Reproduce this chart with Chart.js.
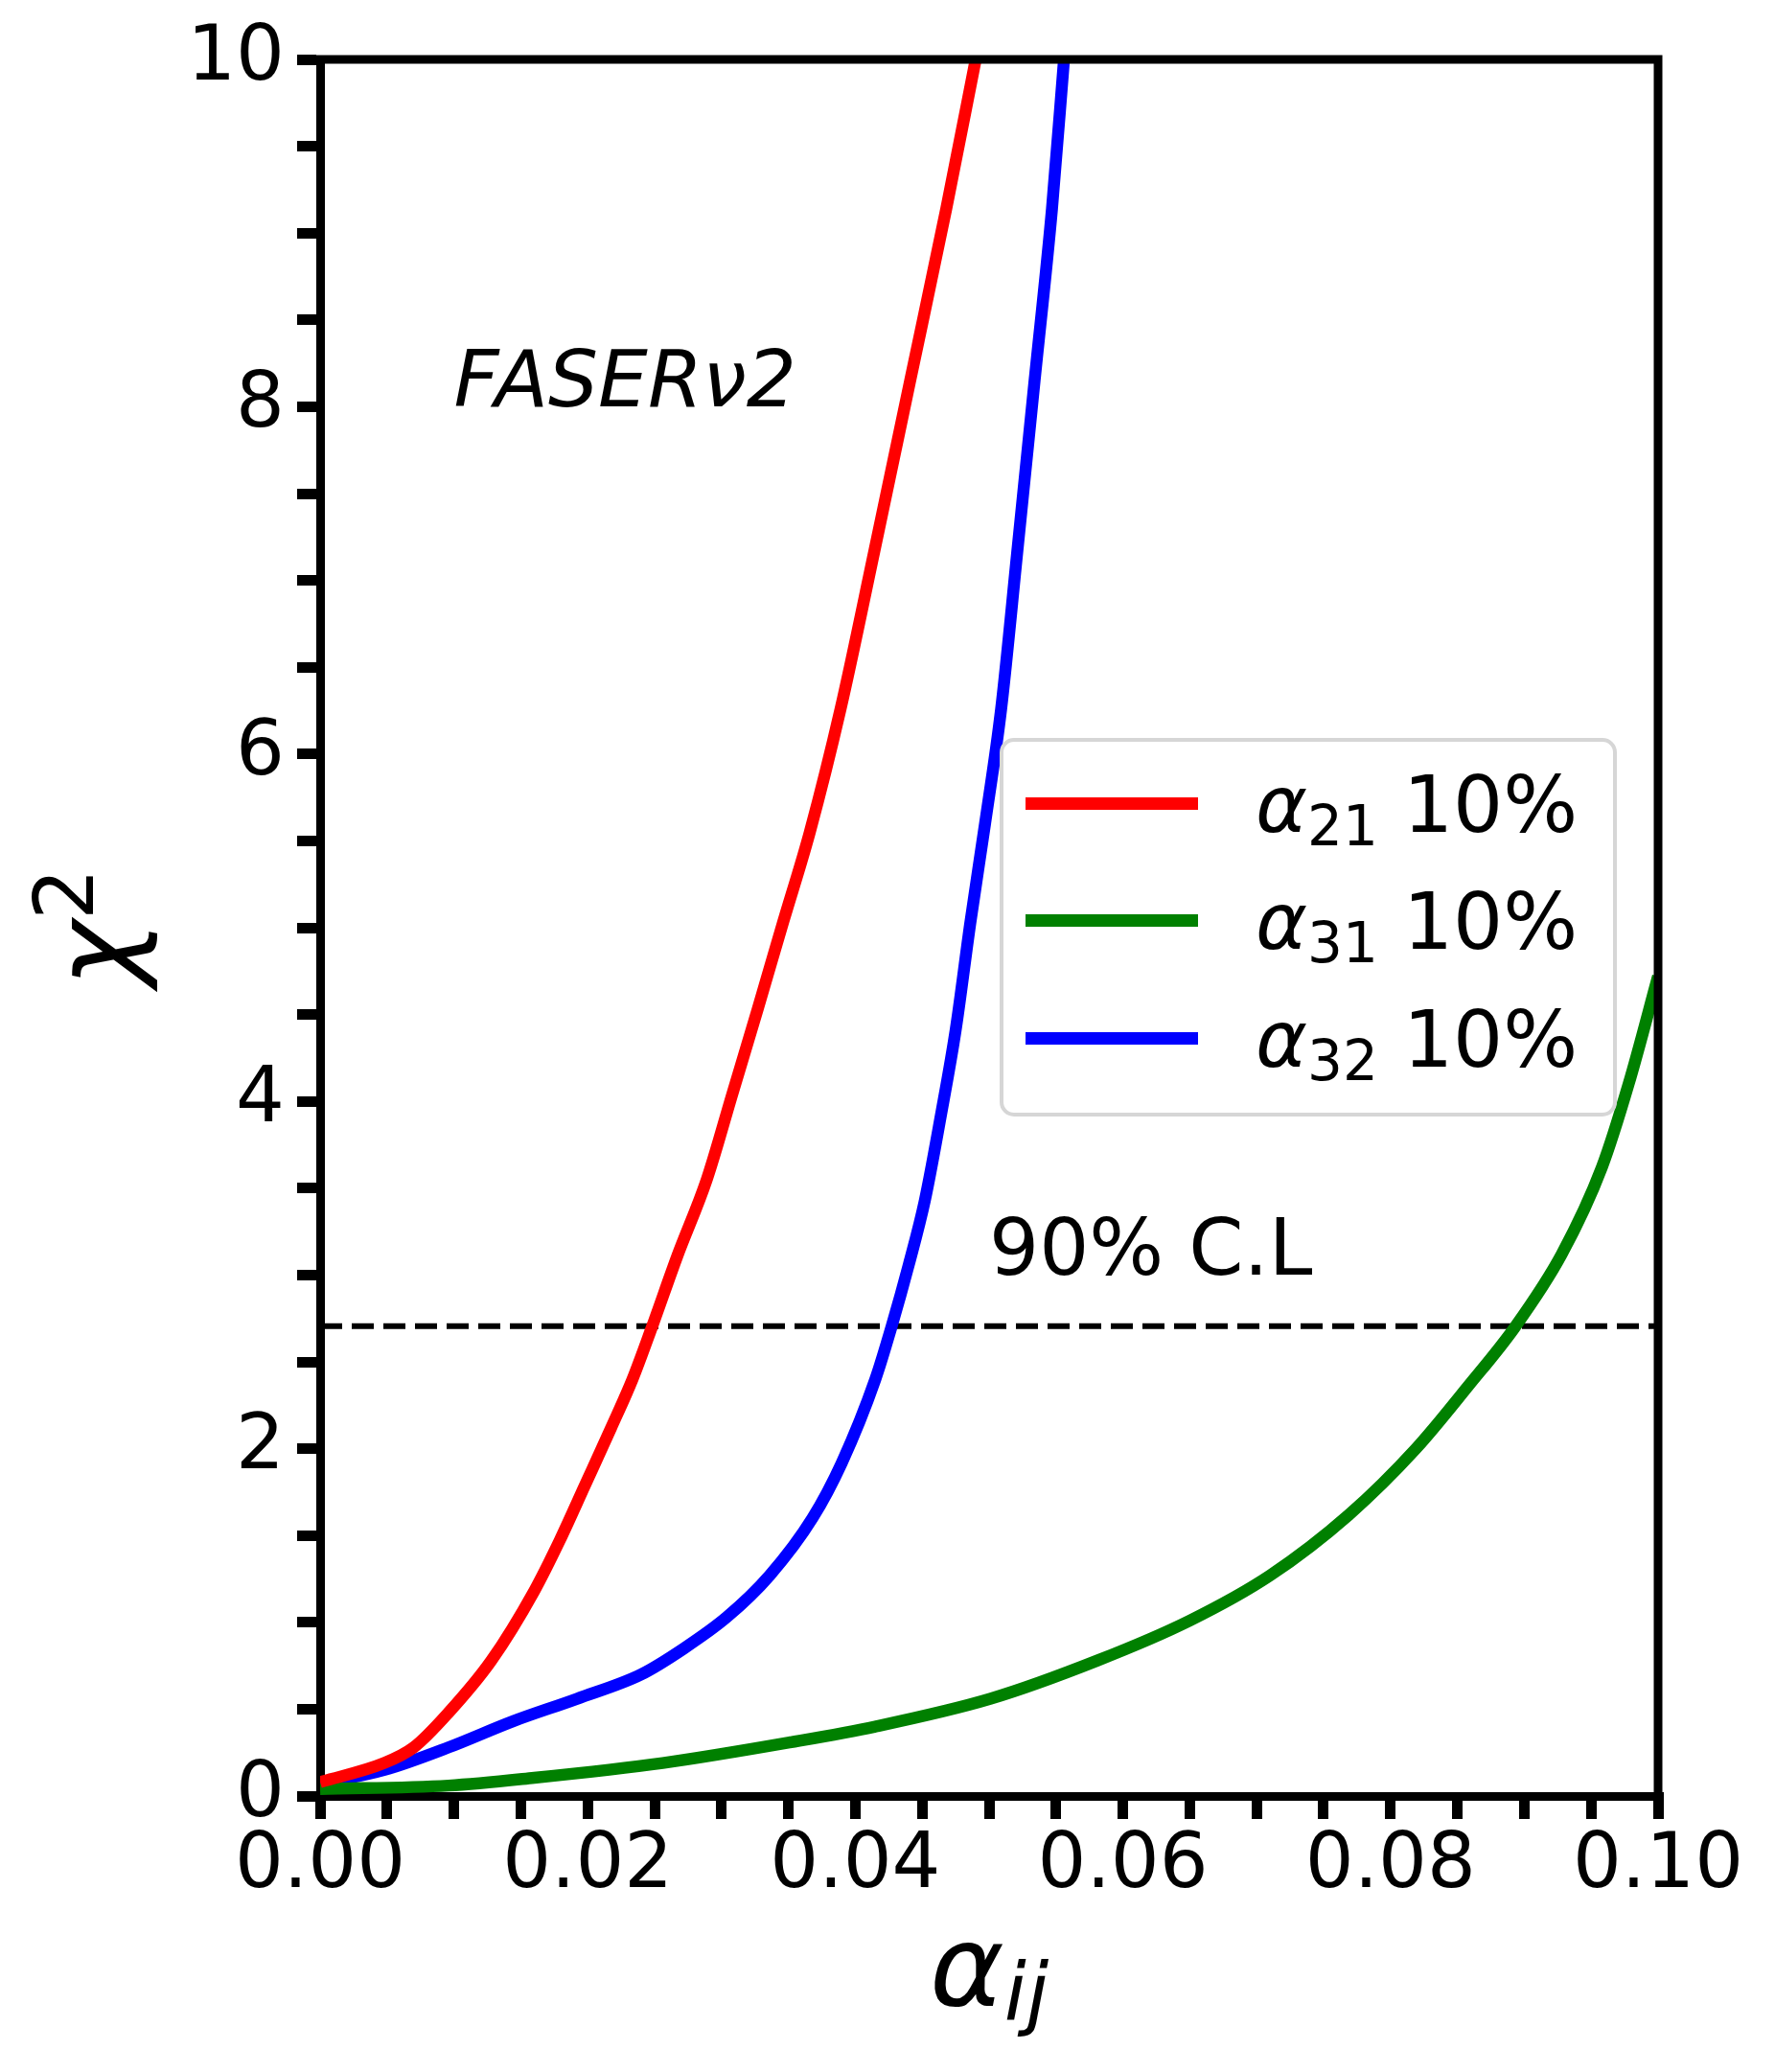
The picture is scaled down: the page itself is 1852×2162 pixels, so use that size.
<!DOCTYPE html>
<html>
<head>
<meta charset="utf-8">
<title>FASERν2 chi2</title>
<script src="https://cdn.jsdelivr.net/npm/chart.js@4.4.1/dist/chart.umd.min.js"></script>
<style>
    html, body { margin: 0; padding: 0; background: #fff; }
    #wrap { position: relative; width: 1852px; height: 2162px; font-family: "DejaVu Sans", sans-serif; color: #000; overflow: hidden; }
    #wrap canvas { position: absolute; left: 0; top: 0; }
    .lbl { position: absolute; white-space: nowrap; line-height: 1; }
    .lbl sub, .lbl sup { line-height: 0; }
    #legend { position: absolute; box-sizing: border-box; border: 4px solid #d6d6d6; border-radius: 15px; background: #fff; }
    .swatch { position: absolute; }
</style>
</head>
<body>
<div id="wrap">
    <canvas id="chi2Chart" width="1852" height="2162"></canvas>
</div>
<script>
// Dữ liệu (alpha_ij, chi^2)
const alpha21X = [0, 0.0048, 0.007, 0.0096, 0.0128, 0.016, 0.0179, 0.0198, 0.02175, 0.02335, 0.0248, 0.0267, 0.0289, 0.0308, 0.0327, 0.0346, 0.0366, 0.0389, 0.0414, 0.0441, 0.0468, 0.049];
const alpha21Chi2 = [0.08, 0.19, 0.28, 0.48, 0.78, 1.18, 1.47, 1.79, 2.12, 2.40, 2.70, 3.11, 3.55, 4.04, 4.53, 5.03, 5.55, 6.26, 7.16, 8.15, 9.14, 10.0];

const alpha31X = [0, 0.0096, 0.016, 0.0256, 0.0352, 0.0415, 0.0501, 0.0581, 0.065, 0.071, 0.0769, 0.0819, 0.0858, 0.0893, 0.0928, 0.0958, 0.0978, 0.1];
const alpha31Chi2 = [0.04, 0.06, 0.105, 0.19, 0.31, 0.40, 0.56, 0.78, 1.01, 1.27, 1.62, 2.0, 2.36, 2.70, 3.12, 3.62, 4.1, 4.72];

const alpha32X = [0, 0.0048, 0.0096, 0.0144, 0.0192, 0.024, 0.0272, 0.0304, 0.0336, 0.0368, 0.039, 0.0415, 0.0427, 0.044, 0.0452, 0.0464, 0.0475, 0.0486, 0.0497, 0.0509, 0.0521, 0.0534, 0.0547, 0.0556];
const alpha32Chi2 = [0.07, 0.15, 0.28, 0.43, 0.56, 0.70, 0.85, 1.03, 1.27, 1.60, 1.92, 2.40, 2.70, 3.06, 3.43, 3.92, 4.41, 5.03, 5.60, 6.26, 7.16, 8.15, 9.14, 10.0];

// Ngưỡng 90% C.L
const clLevel = 2.706;
const clX = [0, 0.1];

// Nhãn trục
const xTickLabels = ['0.00', '0.02', '0.04', '0.06', '0.08', '0.10'];
const yTickLabels = ['0', '2', '4', '6', '8', '10'];

// Chú thích
const seriesSubs = ['21', '31', '32'];
const seriesColors = ['#ff0000', '#008000', '#0000ff'];

function toPoints(xs, ys) {
    return xs.map((x, i) => ({ x: x, y: ys[i] }));
}

function curve(label, xs, ys, color) {
    return {
        label: label,
        data: toPoints(xs, ys),
        borderColor: color,
        backgroundColor: color,
        borderWidth: 12.5,
        pointRadius: 0,
        cubicInterpolationMode: 'monotone',
        fill: false
    };
}

// Vẽ trục trên và trục phải
const framePlugin = {
    id: 'frame',
    afterDraw(chart) {
        const a = chart.chartArea;
        const ctx = chart.ctx;
        ctx.save();
        ctx.strokeStyle = '#000';
        ctx.lineWidth = 9;
        ctx.beginPath();
        ctx.moveTo(a.left - 4.5, a.top);
        ctx.lineTo(a.right, a.top);
        ctx.lineTo(a.right, a.bottom + 4.5);
        ctx.stroke();
        ctx.restore();
    }
};

const tickFont = { family: 'DejaVu Sans', size: 80 };

const chart = new Chart(document.getElementById('chi2Chart').getContext('2d'), {
    type: 'line',
    data: {
        datasets: [
            curve('α21 10%', alpha21X, alpha21Chi2, seriesColors[0]),
            curve('α31 10%', alpha31X, alpha31Chi2, seriesColors[1]),
            curve('α32 10%', alpha32X, alpha32Chi2, seriesColors[2]),
            {
                label: '90% C.L',
                data: toPoints(clX, [clLevel, clLevel]),
                borderColor: '#000',
                borderWidth: 6,
                borderDash: [23, 10],
                pointRadius: 0,
                fill: false
            }
        ]
    },
    options: {
        responsive: false,
        devicePixelRatio: 1,
        animation: false,
        layout: { padding: { left: 0, top: 62, right: 122, bottom: 0 } },
        plugins: {
            legend: { display: false },
            tooltip: { enabled: false }
        },
        scales: {
            x: {
                type: 'linear',
                min: 0,
                max: 0.1,
                afterFit(scale) { scale.height = 288; },
                grid: { drawOnChartArea: false, drawTicks: true, tickLength: 24, tickWidth: 11, tickColor: '#000', lineWidth: 11 },
                border: { display: true, color: '#000', width: 9 },
                ticks: {
                    stepSize: 0.005,
                    autoSkip: false,
                    maxRotation: 0,
                    minRotation: 0,
                    padding: 2,
                    color: '#000',
                    font: tickFont,
                    callback(value) {
                        const k = value / 0.02;
                        return Math.abs(k - Math.round(k)) < 1e-6 ? xTickLabels[Math.round(k)] : '';
                    }
                }
            },
            y: {
                type: 'linear',
                min: 0,
                max: 10,
                afterFit(scale) { scale.width = 334; },
                grid: { drawOnChartArea: false, drawTicks: true, tickLength: 24, tickWidth: 11, tickColor: '#000', lineWidth: 11 },
                border: { display: true, color: '#000', width: 9 },
                ticks: {
                    stepSize: 0.5,
                    autoSkip: false,
                    padding: 13,
                    color: '#000',
                    font: tickFont,
                    callback(value) {
                        const k = value / 2;
                        return Math.abs(k - Math.round(k)) < 1e-6 ? yTickLabels[Math.round(k)] : '';
                    }
                }
            }
        }
    },
    plugins: [framePlugin]
});

// Chữ chú thích bằng HTML
const wrap = document.getElementById('wrap');
const xs = chart.scales.x;
const ys = chart.scales.y;

function addLabel(html, left, baseline, size, extra) {
    const el = document.createElement('div');
    el.className = 'lbl';
    el.innerHTML = html;
    el.style.fontSize = size + 'px';
    el.style.left = left + 'px';
    el.style.top = (baseline - 0.846 * size) + 'px';
    if (extra) Object.assign(el.style, extra);
    wrap.appendChild(el);
    return el;
}

// FASERν2 và 90% C.L
addLabel('<i>FASERν2</i>', xs.getPixelForValue(0.01), ys.getPixelForValue(8), 82);
addLabel('90% C.L', xs.getPixelForValue(0.05), ys.getPixelForValue(3), 82);

// Tên trục x
const xMid = (chart.chartArea.left + chart.chartArea.right) / 2;
addLabel('<i>α</i><sub style="font-size:83px;vertical-align:-16px"><i>ij</i></sub>', xMid, 2092, 118,
    { transform: 'translateX(-50%)' });

// Tên trục y (xoay)
const yMid = (chart.chartArea.top + chart.chartArea.bottom) / 2;
const yTitle = document.createElement('div');
yTitle.className = 'lbl';
yTitle.innerHTML = '<i>χ</i><sup style="font-size:85px;vertical-align:43px">2</sup>';
yTitle.style.fontSize = '118px';
yTitle.style.width = '300px';
yTitle.style.height = '118px';
yTitle.style.textAlign = 'center';
yTitle.style.left = (99 - 150) + 'px';
yTitle.style.top = (yMid - 59) + 'px';
yTitle.style.transform = 'rotate(-90deg)';
wrap.appendChild(yTitle);

// Hộp chú thích
const legend = document.createElement('div');
legend.id = 'legend';
Object.assign(legend.style, { left: '1043px', top: '770px', width: '644px', height: '395px' });
wrap.appendChild(legend);

const rowBaselines = [868, 990, 1113];
seriesSubs.forEach((sub, i) => {
    const sw = document.createElement('div');
    sw.className = 'swatch';
    Object.assign(sw.style, {
        left: '1070px', top: (rowBaselines[i] - 30 - 6.5) + 'px',
        width: '180px', height: '13px', background: seriesColors[i]
    });
    wrap.appendChild(sw);
    addLabel('<i>α</i><sub style="font-size:58px;vertical-align:-14px">' + sub + '</sub> 10%', 1310, rowBaselines[i], 82);
});
</script>
</body>
</html>
